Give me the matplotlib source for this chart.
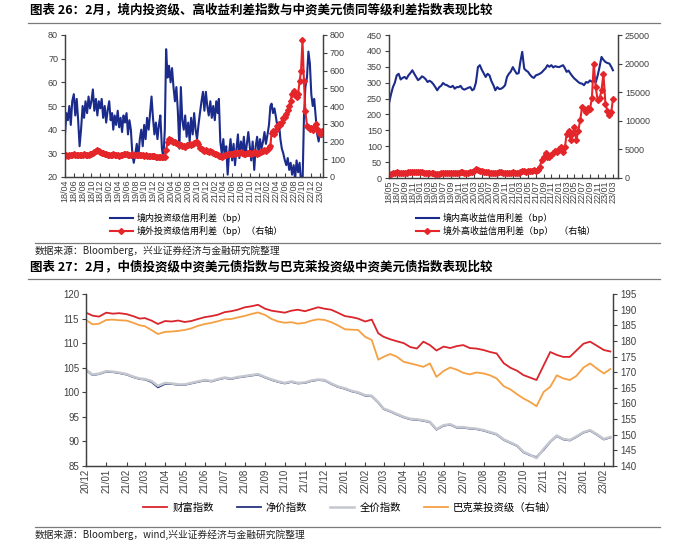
import matplotlib
matplotlib.use('Agg')
import matplotlib.pyplot as plt
import matplotlib.dates as mdates
import pandas as pd
from matplotlib.lines import Line2D

plt.rcParams['font.family'] = ['Liberation Sans', 'Noto Sans CJK SC', 'DejaVu Sans']

# ---------------- data ----------------
# chart 26 left: domestic IG spread (left axis) / offshore IG spread (right axis), 3 pts per month from 2018-04
ig_dom = [38, 47, 44, 50, 42, 52, 55, 46, 53, 44, 33, 40, 50, 45, 52, 47, 54, 49,
          52, 57, 48, 53, 46, 52, 49, 53, 45, 50, 43, 48, 52, 44, 47, 40, 46, 42,
          48, 41, 45, 39, 46, 43, 47, 38, 44, 40, 30, 26, 30, 34, 28, 36, 40, 33,
          42, 36, 45, 40, 47, 54, 45, 38, 43, 36, 42, 46, 32, 28, 40, 74, 62, 67,
          60, 66, 58, 52, 58, 48, 32, 58, 44, 40, 46, 37, 43, 35, 45, 38, 47, 40,
          36, 42, 47, 52, 56, 48, 56, 50, 46, 52, 45, 50, 44, 52, 47, 53, 35, 30,
          36, 28, 33, 21, 30, 36, 27, 34, 25, 32, 38, 28, 35, 30, 37, 29, 34, 39,
          33, 27, 35, 23, 33, 37, 30, 36, 32, 35, 39, 34, 38, 42, 50, 51, 47, 49,
          45, 41, 43, 36, 32, 30, 27, 25, 28, 23, 26, 21, 25, 19, 27, 22, 26, 18,
          16, 45, 58, 62, 73, 68, 55, 50, 53, 45, 38, 35, 40, 37]
ig_off = [120, 122, 120, 125, 123, 126, 128, 125, 124, 126, 124, 122, 125, 128, 124, 122, 125, 127,
          130, 135, 140, 145, 150, 148, 142, 138, 135, 132, 128, 126, 124, 122, 125, 128, 126, 124,
          122, 120, 123, 125, 127, 129, 128, 126, 124, 126, 128, 125, 123, 122, 124, 126, 124, 122,
          120, 122, 121, 119, 120, 118, 116, 118, 115, 114, 112, 115, 113, 110, 112, 150, 200, 212,
          210, 205, 200, 195, 190, 185, 182, 178, 175, 172, 170, 178, 182, 186, 180, 188, 192, 196,
          195, 185, 165, 155, 150, 148, 150, 145, 142, 145, 140, 138, 132, 128, 125, 120, 118, 115,
          118, 122, 125, 128, 130, 127, 132, 135, 130, 133, 138, 135, 140, 136, 132, 130, 135, 138,
          134, 130, 136, 140, 135, 132, 138, 142, 140, 145, 150, 148, 155, 165, 175, 250, 260, 245,
          265, 290, 300, 295, 310, 330, 340, 355, 380, 400, 430, 470, 485, 460, 450, 470, 540, 600,
          770, 540, 370, 290, 280, 270, 275, 265, 280, 300, 270, 255, 240, 260]

# chart 26 right: domestic HY spread (left axis) / offshore HY spread (right axis), 2 pts per month from 2018-05
hy_dom = [235, 262, 286, 300, 323, 328, 310, 315, 318, 312, 323, 330, 339, 328, 318, 308,
          313, 320, 316, 310, 302, 306, 302, 295, 286, 276, 286, 290, 299, 294, 292, 288,
          286, 290, 281, 286, 286, 290, 281, 278, 281, 284, 286, 276, 280, 300, 349, 355,
          341, 330, 318, 328, 323, 305, 292, 276, 286, 280, 281, 285, 292, 318, 328, 335,
          349, 338, 328, 330, 365, 397, 344, 338, 334, 325, 318, 315, 323, 325, 328, 332,
          339, 345, 355, 350, 355, 348, 352, 350, 349, 352, 355, 345, 334, 338, 328, 320,
          313, 308, 302, 298, 297, 292, 302, 300, 307, 303, 307, 300, 323, 350, 381, 372,
          365, 362, 360, 350, 339]
hy_off = [600, 700, 800, 900, 1000, 900, 850, 800, 900, 950, 1000, 1050, 1100, 1050, 1000, 1100,
          1050, 1000, 950, 900, 850, 900, 850, 800, 750, 700, 750, 800, 800, 850, 900, 850,
          800, 850, 900, 950, 950, 1000, 1000, 950, 900, 950, 1000, 1100, 1300, 1500, 1450, 1300,
          1200, 1100, 1050, 1000, 950, 900, 850, 900, 950, 1000, 1000, 950, 900, 850, 900, 950,
          1000, 950, 900, 950, 1100, 1150, 1200, 1100, 1150, 1250, 1300, 1350, 1300, 1400, 1900, 3100,
          3700, 4400, 3700, 3600, 4000, 4300, 4800, 4500, 5100, 5500, 4600, 5400, 7700, 8300, 6600, 7700,
          8900, 6600, 8300, 10100, 12400, 12100, 11500, 12300, 12000, 13900, 20000, 15900, 13600, 13900, 15300, 18200,
          13000, 11800, 11000, 11500, 13800]

# chart 27: index levels, 3 pts per month from 2020-12
wealth = [116.2, 115.6, 115.4, 116.2, 116.0, 116.1, 115.9, 115.5, 115.0, 115.1, 114.6, 113.9,
          114.5, 114.4, 114.6, 114.3, 114.5, 114.9, 115.3, 115.5, 115.8, 116.3, 116.5, 116.8,
          117.3, 117.5, 117.8, 117.0, 116.6, 116.4, 116.2, 116.6, 116.8, 116.5, 116.9, 117.3,
          117.0, 116.8, 116.2, 115.5, 115.3, 115.0, 114.4, 114.8, 112.0, 111.3, 110.8, 110.4,
          110.0, 109.2, 108.9, 110.3, 109.6, 108.5, 109.3, 109.0, 109.4, 109.6, 109.0, 108.9,
          108.6, 108.2, 107.9, 105.9, 105.0, 104.4, 103.5, 103.0, 102.5, 105.5, 108.2, 107.6,
          107.2, 107.2, 108.5, 109.9, 110.3, 109.5, 108.6, 108.3]
net_price = [104.5, 103.5, 103.7, 104.2, 104.1, 103.9, 103.6, 103.1, 102.7, 102.6, 102.1, 101.0,
             101.7, 101.7, 101.5, 101.5, 101.8, 102.1, 102.4, 102.2, 102.6, 102.9, 102.7, 103.0,
             103.2, 103.4, 103.6, 103.0, 102.5, 102.1, 101.8, 102.1, 101.8, 101.9, 102.3, 102.5,
             102.4, 101.7, 101.1, 100.7, 100.2, 99.9, 99.3, 99.2, 97.9, 96.6, 96.1, 95.5,
             94.9, 94.5, 94.4, 94.2, 93.9, 92.4, 93.2, 93.4, 92.8, 92.8, 92.6, 92.5,
             92.2, 91.8, 91.4, 90.3, 89.7, 89.1, 87.8, 87.2, 86.8, 88.3, 89.9, 91.1,
             90.4, 90.2, 90.9, 91.8, 92.2, 91.4, 90.4, 90.8]
full_price = [104.6, 103.6, 103.8, 104.3, 104.2, 104.0, 103.7, 103.2, 102.8, 102.7, 102.3, 101.3,
              101.9, 101.8, 101.6, 101.6, 101.9, 102.2, 102.5, 102.3, 102.7, 103.0, 102.8, 103.1,
              103.3, 103.5, 103.7, 103.1, 102.6, 102.2, 101.9, 102.2, 101.9, 102.0, 102.4, 102.6,
              102.5, 101.8, 101.2, 100.8, 100.3, 100.0, 99.4, 99.3, 98.0, 96.7, 96.2, 95.6,
              95.0, 94.6, 94.5, 94.3, 94.0, 92.5, 93.3, 93.5, 92.9, 92.9, 92.7, 92.6,
              92.3, 91.9, 91.5, 90.4, 89.8, 89.2, 87.9, 87.3, 86.6, 88.5, 90.0, 91.2,
              90.5, 90.3, 91.0, 91.9, 92.3, 91.5, 90.5, 90.9]
barclays = [186.7, 185.3, 185.5, 186.7, 186.8, 186.6, 186.5, 185.8, 185.0, 184.7, 183.5, 182.2,
            182.9, 183.0, 183.2, 183.5, 184.0, 184.8, 185.4, 185.8, 186.3, 186.9, 187.0, 187.5,
            188.0, 188.6, 189.1, 188.3, 187.0, 186.2, 185.8, 186.0, 185.5, 185.8, 186.5, 186.9,
            186.7, 186.0, 185.0, 183.7, 183.6, 183.5, 181.3, 180.3, 174.0, 174.9, 175.8, 175.0,
            173.3, 172.8, 172.3, 171.7, 172.8, 168.5, 170.4, 171.5, 170.8, 169.8, 169.3, 169.9,
            169.6, 169.0, 168.0, 165.5, 164.5, 163.0, 161.6, 160.5, 159.1, 163.7, 165.3, 169.0,
            168.0, 167.5, 168.8, 171.5, 172.8, 171.2, 169.6, 171.0]


def sample_dates(start, n, days):
    months = pd.date_range(start, periods=n // len(days) + 1, freq='MS')
    return [m + pd.Timedelta(days=d) for m in months for d in days][:n]


RED = '#E4262B'
NAVY = '#1B2B8C'
GRID_C = '#404040'

fig = plt.figure(figsize=(7, 5.45), dpi=100)


def style(ax, twin, xmin, xmax, months, lsize):
    for a in (ax, twin):
        a.spines['top'].set_visible(False)
        for s in ('left', 'right', 'bottom'):
            a.spines[s].set_color(GRID_C)
            a.spines[s].set_linewidth(0.9)
        a.tick_params(axis='y', direction='out', length=3, labelsize=lsize, colors=GRID_C, pad=2)
    ax.set_xlim(pd.Timestamp(xmin), pd.Timestamp(xmax))
    ax.xaxis.set_major_locator(mdates.MonthLocator(bymonth=months))
    ax.xaxis.set_major_formatter(mdates.DateFormatter('%y/%m'))
    ax.tick_params(axis='x', direction='in', length=3, labelrotation=90, labelsize=lsize,
                   colors=GRID_C, pad=2)


def hline(y, x0=28, x1=660):
    fig.add_artist(Line2D([x0 / 700, x1 / 700], [1 - y / 545, 1 - y / 545],
                          transform=fig.transFigure, color='#7a7a7a', lw=0.9))


# ---------------- chart 26 left ----------------
ax1 = fig.add_axes([65 / 700, 1 - 177 / 545, 258 / 700, 142 / 545])
ax1b = ax1.twinx()
d1 = sample_dates('2018-04-01', len(ig_dom), (0, 10, 20))
l1, = ax1.plot(d1, ig_dom, color=NAVY, lw=1.5)
l2, = ax1b.plot(d1, ig_off, color=RED, lw=1.5, marker='D', ms=3, mec=RED)
ax1.set_ylim(20, 80)
ax1.set_yticks(range(20, 81, 10))
ax1b.set_ylim(0, 800)
ax1b.set_yticks(range(0, 801, 100))
style(ax1, ax1b, '2018-04-01', '2023-02-20', [2, 4, 6, 8, 10, 12], 6.5)

fig.legend([l1, l2], ['境内投资级信用利差（bp）', '境外投资级信用利差（bp）（右轴）'],
           loc='upper left', bbox_to_anchor=(105 / 700, 1 - 208 / 545), frameon=False,
           handlelength=2.6, handletextpad=0.4, labelspacing=0.35,
           borderpad=0, numpoints=1, prop={'family': ['Noto Sans CJK SC'], 'size': 6.5})

# ---------------- chart 26 right ----------------
ax2 = fig.add_axes([389 / 700, 1 - 178 / 545, 229 / 700, 143 / 545])
ax2b = ax2.twinx()
d2 = sample_dates('2018-05-01', len(hy_dom), (0, 15))
l3, = ax2.plot(d2, hy_dom, color=NAVY, lw=1.5)
l4, = ax2b.plot(d2, hy_off, color=RED, lw=1.5, marker='D', ms=3, mec=RED)
ax2.set_ylim(0, 450)
ax2.set_yticks(range(0, 451, 50))
ax2b.set_ylim(0, 25000)
ax2b.set_yticks(range(0, 25001, 5000))
style(ax2, ax2b, '2018-05-01', '2023-04-10', [1, 3, 5, 7, 9, 11], 6.5)

fig.legend([l3, l4], ['境内高收益信用利差（bp）', '境外高收益信用利差（bp）   （右轴）'],
           loc='upper left', bbox_to_anchor=(411 / 700, 1 - 208 / 545), frameon=False,
           handlelength=2.6, handletextpad=0.4, labelspacing=0.35,
           borderpad=0, numpoints=1, prop={'family': ['Noto Sans CJK SC'], 'size': 6.5})

# ---------------- chart 27 ----------------
ax3 = fig.add_axes([86 / 700, 1 - 466 / 545, 527 / 700, 172 / 545])
ax3b = ax3.twinx()
d3 = sample_dates('2020-12-01', len(wealth), (0, 10, 20))
l5, = ax3.plot(d3, wealth, color='#D9252B', lw=1.3)
l6, = ax3.plot(d3, net_price, color='#26337F', lw=1.3)
l7, = ax3.plot(d3, full_price, color='#C5C7CF', lw=1.8)
l8, = ax3b.plot(d3, barclays, color='#F5A043', lw=1.3)
ax3.set_ylim(85, 120)
ax3.set_yticks(range(85, 121, 5))
ax3b.set_ylim(140, 195)
ax3b.set_yticks(range(140, 196, 5))
style(ax3, ax3b, '2020-12-01', '2023-02-15', list(range(1, 13)), 7)

fig.legend([l5, l6, l7, l8], ['财富指数', '净价指数', '全价指数', '巴克莱投资级（右轴）'],
           loc='center', bbox_to_anchor=(350 / 700, 1 - 508 / 545), frameon=False, ncol=4,
           handlelength=2.3, handletextpad=0.5, columnspacing=2.2, borderpad=0,
           prop={'family': ['Noto Sans CJK SC'], 'size': 7.5})

# ---------------- titles, rules, sources ----------------
fig.text(30 / 700, 1 - 10 / 545, '图表 26：2月，境内投资级、高收益利差指数与中资美元债同等级利差指数表现比较',
         fontsize=9, fontweight='bold', va='center', family=['Noto Sans CJK SC'])
hline(23)
hline(243, 35, 660)
fig.text(35 / 700, 1 - 251 / 545, '数据来源：Bloomberg，兴业证券经济与金融研究院整理',
         fontsize=7, va='center', color='#222222', family=['Noto Sans CJK SC'])

fig.text(30 / 700, 1 - 267 / 545, '图表 27：2月，中债投资级中资美元债指数与巴克莱投资级中资美元债指数表现比较',
         fontsize=9, fontweight='bold', va='center', family=['Noto Sans CJK SC'])
hline(279)
hline(527, 35, 660)
fig.text(35 / 700, 1 - 535 / 545, '数据来源：Bloomberg，wind,兴业证券经济与金融研究院整理',
         fontsize=7, va='center', color='#222222', family=['Noto Sans CJK SC'])

fig.savefig('out.png', dpi=100)
